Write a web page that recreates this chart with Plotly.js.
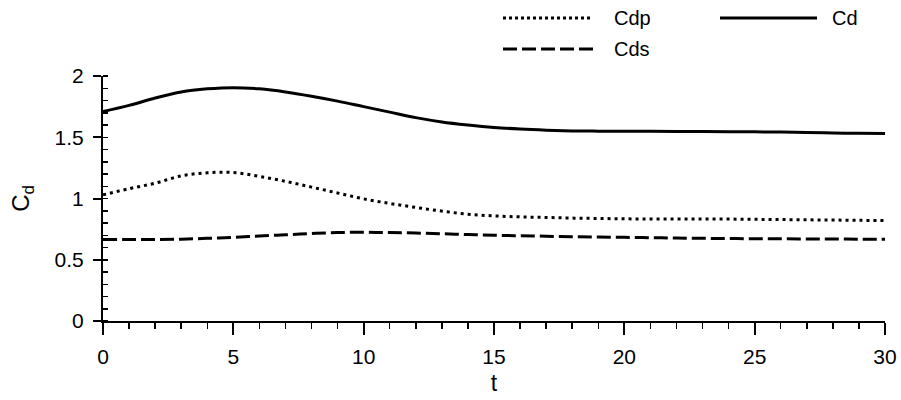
<!DOCTYPE html>
<html>
<head>
<meta charset="utf-8">
<script src="https://cdn.plot.ly/plotly-3.0.1.min.js"></script>
<style>html,body{margin:0;padding:0;background:#fff;}#chart{width:901px;height:400px;}</style>
</head>
<body>
<div id="chart"></div>
<script>
const t = [0,1,2,3,4,5,6,7,8,9,10,11,12,13,14,15,16,17,18,19,20,21,22,23,24,25,26,27,28,29,30];
const cd = [1.71,1.76,1.82,1.87,1.895,1.905,1.895,1.87,1.835,1.795,1.75,1.705,1.66,1.625,1.6,1.58,1.567,1.558,1.552,1.55,1.549,1.548,1.547,1.546,1.545,1.544,1.542,1.538,1.535,1.532,1.53];
const cdp = [1.03,1.08,1.125,1.185,1.21,1.212,1.18,1.14,1.093,1.045,0.997,0.96,0.927,0.897,0.872,0.858,0.85,0.845,0.84,0.837,0.834,0.833,0.833,0.832,0.832,0.83,0.828,0.826,0.824,0.822,0.82];
const cds = [0.665,0.665,0.665,0.668,0.675,0.683,0.694,0.704,0.714,0.722,0.724,0.722,0.718,0.712,0.706,0.70,0.696,0.692,0.688,0.685,0.683,0.68,0.677,0.675,0.673,0.672,0.671,0.67,0.669,0.668,0.668];
const names = ['Cdp','Cd','Cds'];

const FONT = 'Liberation Sans, Arial, sans-serif';
const traces = [
  {x:t, y:cdp, name:names[0], mode:'lines', line:{color:'#000', width:3, dash:'3px,4px', shape:'spline'}},
  {x:t, y:cd, name:names[1], mode:'lines', line:{color:'#000', width:3, shape:'spline'}},
  {x:t, y:cds, name:names[2], mode:'lines', line:{color:'#000', width:3, dash:'14px,5px', shape:'spline'}}
];

const L = 103, R = 885, T = 76, B = 321;
const px = v => (v - L) / (R - L);
const py = v => (B - v) / (B - T);

const layout = {
  width:901, height:400,
  margin:{l:L, r:901-R, t:T, b:400-B},
  paper_bgcolor:'#fff', plot_bgcolor:'#fff',
  showlegend:false,
  font:{family:FONT, color:'#000', size:21},
  xaxis:{
    range:[0,30], tickvals:[0,5,10,15,20,25,30], ticktext:['0','5','10','15','20','25','30'],
    showgrid:false, zeroline:false, showline:true, linecolor:'#000', linewidth:2,
    ticks:'outside', ticklen:12, tickwidth:2, tickcolor:'#000', ticklabelstandoff:4,
    minor:{dtick:1, ticks:'outside', ticklen:6, tickwidth:1.5, tickcolor:'#000', showgrid:false},
    tickfont:{size:21, family:FONT},
    title:{text:'t', font:{size:23, family:FONT}, standoff:8}
  },
  yaxis:{
    range:[0,2], tickvals:[0,0.5,1,1.5,2], ticktext:['0','0.5','1','1.5','2'],
    showgrid:false, zeroline:false, showline:true, linecolor:'#000', linewidth:2,
    ticks:'outside', ticklen:8, tickwidth:2, tickcolor:'#000', ticklabelstandoff:5,
    minor:{dtick:0.1, ticks:'inside', ticklen:5, tickwidth:1.5, tickcolor:'#000', showgrid:false},
    tickfont:{size:21, family:FONT},
    title:{text:'C<sub>d</sub>', font:{size:24, family:FONT}, standoff:18}
  },
  shapes:[
    {type:'line', xref:'paper', yref:'paper', x0:px(503), x1:px(593), y0:py(18), y1:py(18), line:{color:'#000', width:3, dash:'3px,3px'}},
    {type:'line', xref:'paper', yref:'paper', x0:px(720), x1:px(817), y0:py(18), y1:py(18), line:{color:'#000', width:3}},
    {type:'line', xref:'paper', yref:'paper', x0:px(503), x1:px(593), y0:py(49), y1:py(49), line:{color:'#000', width:3, dash:'14px,5px'}}
  ],
  annotations:[
    {xref:'paper', yref:'paper', x:px(612), y:py(18), xanchor:'left', yanchor:'middle', text:names[0], showarrow:false, font:{size:20, family:FONT}},
    {xref:'paper', yref:'paper', x:px(830), y:py(18), xanchor:'left', yanchor:'middle', text:names[1], showarrow:false, font:{size:20, family:FONT}},
    {xref:'paper', yref:'paper', x:px(612), y:py(49), xanchor:'left', yanchor:'middle', text:names[2], showarrow:false, font:{size:20, family:FONT}}
  ]
};

Plotly.newPlot('chart', traces, layout, {displayModeBar:false, staticPlot:true});
</script>
</body>
</html>
